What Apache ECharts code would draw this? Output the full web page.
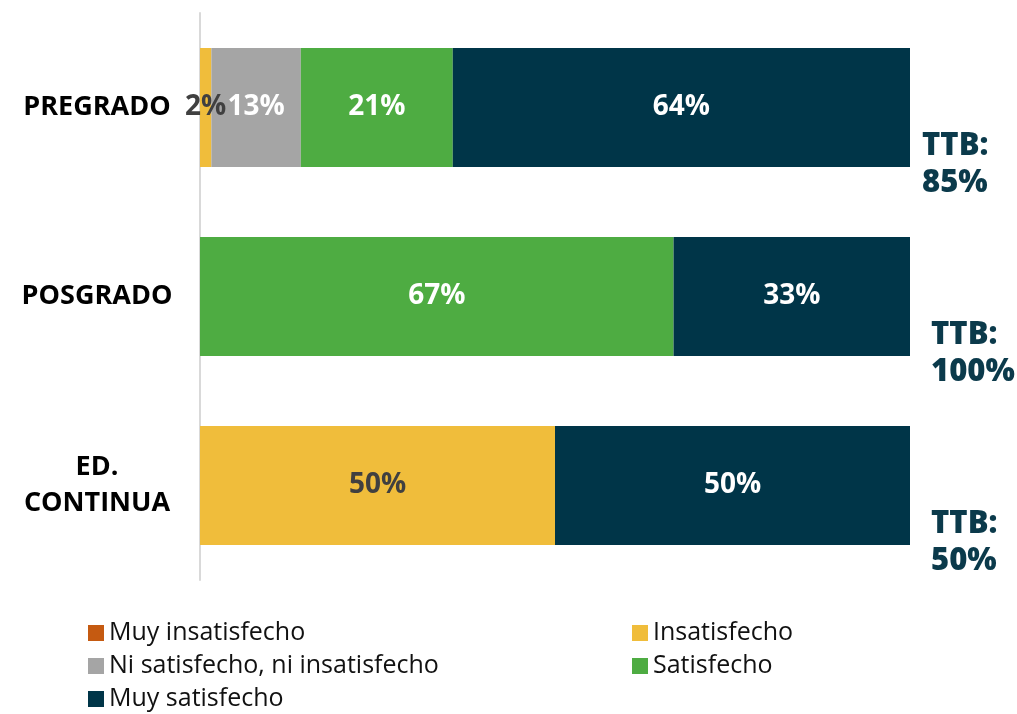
<!DOCTYPE html>
<html>
<head>
<meta charset="utf-8">
<script src="https://cdn.jsdelivr.net/npm/echarts@6/dist/echarts.min.js"></script>
<style>
  html, body { margin: 0; padding: 0; background: #fff; }
  #chart { width: 1017px; height: 714px; }
</style>
</head>
<body>
<div id="chart"></div>
<script>
const categories = ["PREGRADO", "POSGRADO", "ED.\nCONTINUA"];
const muyInsatisfecho = [0, 0, 0];
const insatisfecho = [1.6, 0, 50];
const niSatisfecho = [12.6, 0, 0];
const satisfecho = [21.4, 66.7, 0];
const muySatisfecho = [64.4, 33.3, 50];
const ttb = [85, 100, 50];

const FONT = "'Open Sans', Lato, sans-serif";

function barSeries(name, data, color, labelColor) {
  return {
    name: name,
    type: "bar",
    stack: "total",
    data: data,
    barWidth: 119,
    itemStyle: { color: color },
    label: {
      show: true,
      position: "inside",
      color: labelColor,
      fontFamily: FONT,
      fontWeight: "bold",
      fontSize: 28,
      formatter: (p) => (p.value ? Math.round(p.value) + "%" : "")
    }
  };
}

const legendBase = {
  orient: "vertical",
  top: 620,
  padding: 0,
  itemWidth: 16,
  itemHeight: 16,
  itemGap: 7,
  icon: "rect",
  textStyle: { fontFamily: FONT, fontSize: 25, lineHeight: 26, color: "#111" }
};

const chart = echarts.init(document.getElementById("chart"));

chart.setOption({
  animation: false,
  grid: { left: 200, right: 107, top: 13, bottom: 134 },
  xAxis: {
    type: "value",
    min: 0,
    max: 100,
    show: false
  },
  yAxis: {
    type: "category",
    data: categories,
    inverse: true,
    axisLine: { show: true, lineStyle: { color: "#D9D9D9", width: 2 } },
    axisTick: { show: false },
    axisLabel: {
      align: "center",
      margin: 103,
      color: "#000",
      fontFamily: FONT,
      fontWeight: "bold",
      fontSize: 27,
      lineHeight: 36
    }
  },
  legend: [
    Object.assign({}, legendBase, {
      left: 88,
      data: ["Muy insatisfecho", "Ni satisfecho, ni insatisfecho", "Muy satisfecho"]
    }),
    Object.assign({}, legendBase, {
      left: 632,
      data: ["Insatisfecho", "Satisfecho"]
    })
  ],
  series: [
    barSeries("Muy insatisfecho", muyInsatisfecho, "#C55A11", "#fff"),
    barSeries("Insatisfecho", insatisfecho, "#F0BD3B", "#404040"),
    barSeries("Ni satisfecho, ni insatisfecho", niSatisfecho, "#A5A5A5", "#fff"),
    barSeries("Satisfecho", satisfecho, "#4EAC42", "#fff"),
    barSeries("Muy satisfecho", muySatisfecho, "#003548", "#fff"),
    {
      name: "TTB",
      type: "bar",
      stack: "total",
      barWidth: 119,
      data: ttb.map((v, i) => ({
        value: 0,
        label: { offset: [i === 0 ? 10 : 19, 57] }
      })),
      itemStyle: { color: "transparent" },
      label: {
        show: true,
        position: "right",
        distance: 2,
        color: "#0B3A4B",
        fontFamily: FONT,
        fontWeight: 800,
        fontSize: 31,
        lineHeight: 37,
        align: "left",
        formatter: (p) => "TTB:\n" + ttb[p.dataIndex] + "%"
      }
    }
  ]
});
</script>
</body>
</html>
